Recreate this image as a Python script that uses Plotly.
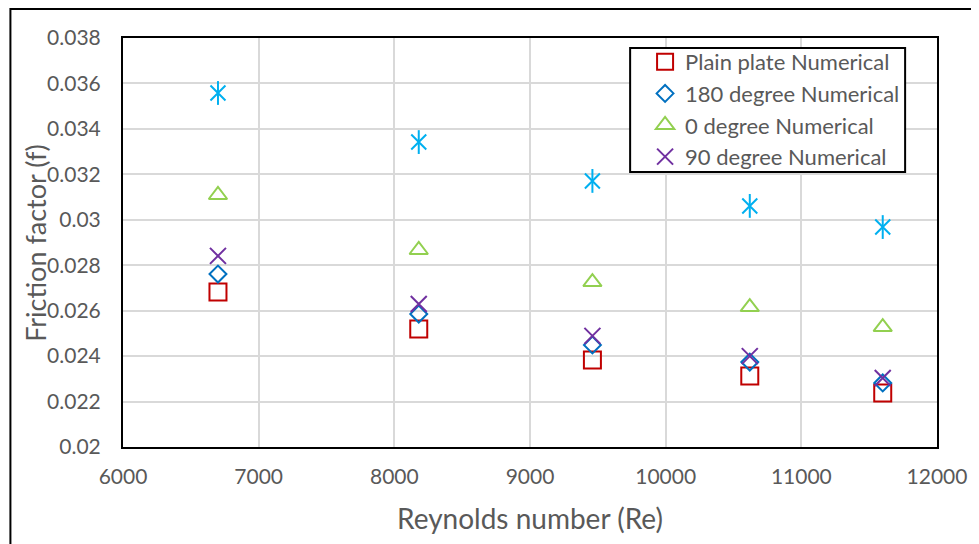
import plotly.graph_objects as go

re = [6700, 8180, 9460, 10620, 11600]
plain_plate = [0.02682, 0.02519, 0.02383, 0.02312, 0.02238]
deg180 = [0.02761, 0.02585, 0.02449, 0.02374, 0.02282]
deg0 = [0.03109, 0.02867, 0.02726, 0.02616, 0.02528]
deg90 = [0.02841, 0.02629, 0.02489, 0.02400, 0.02304]
star_series = [0.03558, 0.03342, 0.03171, 0.03061, 0.02968]

FONT = "Lato"
GRAY = "#595959"

fig = go.Figure()

# star series (not in legend): X plus vertical line, as Excel's star marker
fig.add_trace(go.Scatter(x=re, y=star_series, mode="markers", showlegend=False,
                         marker=dict(symbol="x-thin-open", size=15, color="#00B0F0",
                                     line=dict(color="#00B0F0", width=2))))
fig.add_trace(go.Scatter(x=re, y=star_series, mode="markers", showlegend=False,
                         marker=dict(symbol="line-ns-open", size=17, color="#00B0F0",
                                     line=dict(color="#00B0F0", width=2))))

fig.add_trace(go.Scatter(x=re, y=plain_plate, mode="markers", name="Plain plate Numerical",
                         marker=dict(symbol="square-open", size=17, color="#C00000",
                                     line=dict(color="#C00000", width=2))))
fig.add_trace(go.Scatter(x=re, y=deg180, mode="markers", name="180 degree Numerical",
                         marker=dict(symbol="diamond-open", size=13, color="#0070C0",
                                     line=dict(color="#0070C0", width=2))))
fig.add_trace(go.Scatter(x=re, y=deg0, mode="markers", name="0 degree Numerical",
                         marker=dict(symbol="triangle-up-open", size=16, color="#92D050",
                                     line=dict(color="#92D050", width=2))))
fig.add_trace(go.Scatter(x=re, y=deg90, mode="markers", name="90 degree Numerical",
                         marker=dict(symbol="x-thin-open", size=16, color="#7030A0",
                                     line=dict(color="#7030A0", width=2))))

# page body has an 8px margin; compensate so the figure lands where the reference is
OFF = 8
L, R, T, B = 123 - OFF, 39, 38 - OFF, 97
W, H = 979 - OFF, 544 - OFF
pw, ph = W - L - R, H - T - B


def px_x(p):  # reference pixel -> paper x
    return (p - 123) / pw


def px_y(p):  # reference pixel -> paper y
    return 1 - (p - 38) / ph


fig.update_layout(
    width=W, height=H,
    margin=dict(l=L, r=R, t=T, b=B),
    paper_bgcolor="white", plot_bgcolor="white",
    font=dict(family=FONT, color=GRAY, size=21),
    xaxis=dict(range=[6000, 12000], dtick=1000, tick0=6000, tickformat="d",
               showgrid=True, gridcolor="#D9D9D9", gridwidth=2,
               showline=True, linecolor="black", linewidth=2, mirror=True,
               zeroline=False, ticks="", tickfont=dict(size=21, color=GRAY),
               ticklabelstandoff=10,
               title=dict(text="Reynolds number (Re)", font=dict(size=28, color=GRAY), standoff=22)),
    yaxis=dict(range=[0.02, 0.038], dtick=0.002, tick0=0.02,
               showgrid=True, gridcolor="#D9D9D9", gridwidth=2,
               showline=True, linecolor="black", linewidth=2, mirror=True,
               zeroline=False, ticks="", tickfont=dict(size=21, color=GRAY),
               ticklabelstandoff=16),
    legend=dict(x=px_x(647), y=px_y(41), xanchor="left", yanchor="top",
                borderwidth=0, bgcolor="rgba(0,0,0,0)",
                font=dict(size=22, color=GRAY), itemwidth=30),
    annotations=[dict(text="Friction factor (f)", textangle=-90, showarrow=False,
                      xref="paper", yref="paper", x=px_x(35), y=0.5,
                      xanchor="center", yanchor="middle",
                      font=dict(size=27, color=GRAY, family=FONT))],
    shapes=[
        dict(type="rect", xref="paper", yref="paper",
             x0=px_x(10), y0=-0.4, x1=1.2, y1=px_y(9),
             line=dict(color="black", width=2), fillcolor="rgba(0,0,0,0)", layer="below"),
        dict(type="rect", xref="paper", yref="paper",
             x0=px_x(632), y0=px_y(172), x1=px_x(908), y1=px_y(48),
             line=dict(color="black", width=2), fillcolor="white", layer="above"),
    ],
)

fig.write_html("out.html")
